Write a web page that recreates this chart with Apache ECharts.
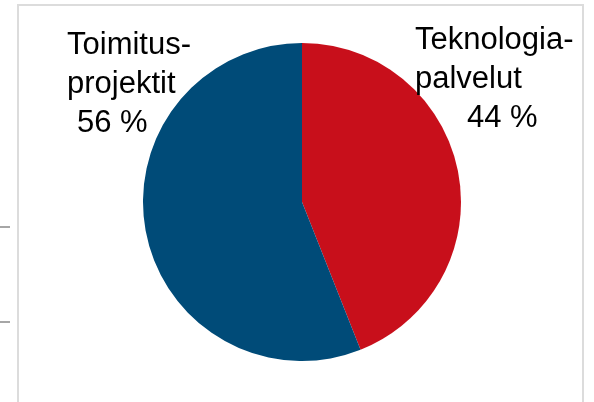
<!DOCTYPE html>
<html lang="fi">
<head>
    <meta charset="UTF-8">
    <title>Liikevaihto</title>
    <script src="https://cdn.jsdelivr.net/npm/echarts@6/dist/echarts.min.js"></script>
    <style>
        html, body { margin: 0; padding: 0; background: #fff; }
        #main { width: 594px; height: 402px; }
    </style>
</head>
<body>
<div id="main"></div>
<script>
    // osuudet, %
    var names = ['Teknologia-\npalvelut', 'Toimitus-\nprojektit']
    var values = [44, 56]
    var colors = ['#C80F1B', '#004B78']
    // tekstien paikat (vasen reuna, keskikohta)
    var labelPos = [[415, 79], [67, 84]]
    var indent = [52, 10]

    var myChart = echarts.init(document.getElementById('main'))

    var data = []
    for (var i = 0; i < names.length; i++) {
        data.push({
            name: names[i], value: values[i], itemStyle: { color: colors[i] },
            label: { rich: { p: { padding: [0, 0, 0, indent[i]] } } }
        })
    }

    var option = {
        animation: false,
        graphic: [
            // kehys
            { type: 'polyline', shape: { points: [[18, 420], [18, 5], [583, 5], [583, 420]] },
              style: { stroke: '#dcdcdc', lineWidth: 2, fill: null } },
            { type: 'line', shape: { x1: 0, y1: 227, x2: 10, y2: 227 }, style: { stroke: '#a6a6a6', lineWidth: 2 } },
            { type: 'line', shape: { x1: 0, y1: 322, x2: 10, y2: 322 }, style: { stroke: '#a6a6a6', lineWidth: 2 } }
        ],
        series: [
            {
                type: 'pie',
                center: [302, 202],
                radius: 159,
                startAngle: 90,
                clockwise: true,
                itemStyle: { borderWidth: 0 },
                emphasis: { disabled: true },
                labelLine: { show: false },
                label: {
                    show: true,
                    position: 'outside',
                    overflow: 'none',
                    formatter: function (p) {
                        return p.name + '\n{p|' + p.value + ' %}'
                    },
                    color: '#000',
                    fontFamily: 'Liberation Sans, Arial, sans-serif',
                    fontSize: 31,
                    lineHeight: 39,
                    align: 'left',
                    rich: {
                        p: { fontSize: 31, lineHeight: 39, color: '#000', fontFamily: 'Liberation Sans, Arial, sans-serif' }
                    }
                },
                labelLayout: function (params) {
                    var k = params.dataIndex
                    return { x: labelPos[k][0], y: labelPos[k][1], align: 'left', verticalAlign: 'middle' }
                },
                data: data
            }
        ]
    }

    myChart.setOption(option)
    window.onresize = myChart.resize
</script>
</body>
</html>
